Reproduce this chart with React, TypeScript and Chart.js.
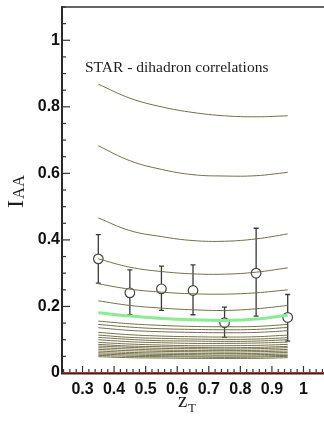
import React, { useEffect, useRef } from "react";
import { Chart, registerables } from "chart.js";
Chart.register(...registerables);

// zT positions of the theory curves and data
const zT = [0.35, 0.45, 0.55, 0.65, 0.75, 0.85, 0.95];

// theory curves (top to bottom)
const curve1 = [0.868, 0.826, 0.8, 0.783, 0.773, 0.77, 0.773];
const curve2 = [0.683, 0.638, 0.612, 0.596, 0.592, 0.593, 0.603];
const curve3 = [0.466, 0.428, 0.41, 0.398, 0.396, 0.403, 0.418];
const curve4 = [0.343, 0.318, 0.305, 0.298, 0.297, 0.303, 0.316];
const curve5 = [0.268, 0.252, 0.243, 0.238, 0.237, 0.241, 0.25];
const curve6 = [0.217, 0.203, 0.195, 0.19, 0.188, 0.193, 0.203];
const greenCurve = [0.181, 0.171, 0.164, 0.16, 0.158, 0.162, 0.174];
const curve8 = [0.156, 0.148, 0.143, 0.14, 0.139, 0.14, 0.146];
const curve9 = [0.146, 0.138, 0.133, 0.131, 0.13, 0.131, 0.137];
const curve10 = [0.136, 0.128, 0.124, 0.122, 0.121, 0.122, 0.127];
const curve11 = [0.122, 0.115, 0.111, 0.109, 0.108, 0.109, 0.114];
const curve12 = [0.114, 0.107, 0.104, 0.102, 0.101, 0.102, 0.106];
const curve13 = [0.107, 0.101, 0.097, 0.096, 0.095, 0.096, 0.1];
const curve14 = [0.1, 0.094, 0.091, 0.089, 0.089, 0.09, 0.093];
const curve15 = [0.092, 0.087, 0.084, 0.082, 0.082, 0.083, 0.086];
const curve16 = [0.086, 0.081, 0.079, 0.077, 0.076, 0.077, 0.08];
const curve17 = [0.081, 0.077, 0.074, 0.073, 0.072, 0.073, 0.076];
const curve18 = [0.076, 0.072, 0.069, 0.068, 0.068, 0.068, 0.071];
const curve19 = [0.071, 0.067, 0.065, 0.064, 0.063, 0.064, 0.066];
const curve20 = [0.066, 0.062, 0.06, 0.059, 0.059, 0.059, 0.062];
const curve21 = [0.061, 0.058, 0.056, 0.055, 0.054, 0.055, 0.057];
const curve22 = [0.057, 0.054, 0.052, 0.051, 0.051, 0.051, 0.053];
const curve23 = [0.053, 0.05, 0.049, 0.048, 0.047, 0.048, 0.05];
const curve24 = [0.049, 0.046, 0.045, 0.044, 0.044, 0.044, 0.046];

const olivecurves = [
  curve1, curve2, curve3, curve4, curve5, curve6,
  curve8, curve9, curve10, curve11, curve12, curve13, curve14, curve15,
  curve16, curve17, curve18, curve19, curve20, curve21, curve22, curve23, curve24,
];

// STAR data
const dataZ = [0.35, 0.45, 0.55, 0.65, 0.75, 0.85, 0.95];
const dataIAA = [0.343, 0.241, 0.253, 0.248, 0.151, 0.3, 0.167];
const errHigh = [0.416, 0.31, 0.321, 0.325, 0.198, 0.435, 0.236];
const errLow = [0.27, 0.175, 0.188, 0.175, 0.107, 0.171, 0.096];

const xTicks = [0.3, 0.4, 0.5, 0.6, 0.7, 0.8, 0.9, 1.0];
const xTickLabels = ["0.3", "0.4", "0.5", "0.6", "0.7", "0.8", "0.9", "1"];
const yTicks = [0, 0.2, 0.4, 0.6, 0.8, 1.0];
const yTickLabels = ["0", "0.2", "0.4", "0.6", "0.8", "1"];

const X_MIN = 0.235;
const X_MAX = 1.065;
const Y_MIN = 0;
const Y_MAX = 1.1;

const W = 324;
const H = 426;

const SERIF = "'Liberation Serif', 'Times New Roman', serif";

const decorPlugin = {
  id: "decor",
  beforeDatasetDraw(chart: any, args: any) {
    if (args.index !== chart.data.datasets.length - 1) return;
    const ctx = chart.ctx;
    const xs = chart.scales.x;
    const ys = chart.scales.y;
    ctx.save();
    ctx.strokeStyle = "#3a3a3a";
    ctx.lineWidth = 1.3;
    for (let i = 0; i < dataZ.length; i++) {
      const px = xs.getPixelForValue(dataZ[i]);
      const hi = ys.getPixelForValue(errHigh[i]);
      const lo = ys.getPixelForValue(errLow[i]);
      ctx.beginPath();
      ctx.moveTo(px, hi);
      ctx.lineTo(px, lo);
      ctx.moveTo(px - 2.5, hi);
      ctx.lineTo(px + 2.5, hi);
      ctx.moveTo(px - 2.5, lo);
      ctx.lineTo(px + 2.5, lo);
      ctx.stroke();
    }
    ctx.restore();
  },
  afterDraw(chart: any) {
    const ctx = chart.ctx;
    const xs = chart.scales.x;
    const ys = chart.scales.y;
    const { left, right, top, bottom } = chart.chartArea;
    ctx.save();
    // top frame
    ctx.strokeStyle = "#666";
    ctx.lineWidth = 2;
    ctx.beginPath();
    ctx.moveTo(left, top);
    ctx.lineTo(right, top);
    ctx.stroke();
    // left axis
    ctx.strokeStyle = "#2a2a2a";
    ctx.beginPath();
    ctx.moveTo(left, top - 1);
    ctx.lineTo(left, bottom + 1);
    ctx.stroke();
    // bottom axis
    ctx.beginPath();
    ctx.moveTo(left - 1, bottom + 0.5);
    ctx.lineTo(right, bottom + 0.5);
    ctx.stroke();
    // y ticks (inward)
    ctx.lineWidth = 1.2;
    ctx.strokeStyle = "#333";
    for (let k = 0; k <= 22; k++) {
      const v = k * 0.05;
      const py = ys.getPixelForValue(v);
      const major = k % 4 === 0;
      ctx.beginPath();
      ctx.moveTo(left, py);
      ctx.lineTo(left + (major ? 8 : 4), py);
      ctx.stroke();
    }
    // x ticks (inward)
    for (let k = 12; k <= 53; k++) {
      const v = k * 0.02;
      const px = xs.getPixelForValue(v);
      const major = k % 5 === 0;
      ctx.beginPath();
      ctx.moveTo(px, bottom);
      ctx.lineTo(px, bottom - (major ? 7 : 4));
      ctx.stroke();
    }
    // red zero line
    ctx.strokeStyle = "#e02020";
    ctx.lineWidth = 1;
    ctx.beginPath();
    ctx.moveTo(left + 1, bottom - 0.5);
    ctx.lineTo(right, bottom - 0.5);
    ctx.stroke();

    // annotation text
    ctx.fillStyle = "#1e1e1e";
    ctx.font = "15.5px " + SERIF;
    ctx.textBaseline = "alphabetic";
    ctx.textAlign = "left";
    ctx.fillText("STAR - dihadron correlations", 85, 72);

    // x title z_T
    ctx.font = "21px " + SERIF;
    ctx.fillText("z", 178, 407);
    ctx.font = "13px " + SERIF;
    ctx.fillText("T", 188, 412);

    // y title I_AA (rotated)
    ctx.save();
    ctx.translate(23, 208);
    ctx.rotate(-Math.PI / 2);
    ctx.font = "24px " + SERIF;
    ctx.fillText("I", 0, 0);
    const w = ctx.measureText("I").width;
    ctx.restore();
    ctx.save();
    ctx.translate(24, 208 - w - 1);
    ctx.rotate(-Math.PI / 2);
    ctx.font = "16.5px " + SERIF;
    ctx.fillText("AA", 0, 0);
    ctx.restore();
    ctx.restore();
  },
};

const zeroPad = (s: any) => {
  s.paddingTop = 0;
  s.paddingBottom = 0;
  s.paddingLeft = 0;
  s.paddingRight = 0;
};

export default function App() {
  const canvasRef = useRef<HTMLCanvasElement | null>(null);

  useEffect(() => {
    document.body.style.margin = "0";
    const canvas = canvasRef.current;
    if (!canvas) return;

    const lineSets: any[] = olivecurves.map((c) => ({
      data: zT.map((x, i) => ({ x, y: c[i] })),
      borderColor: "#747046",
      borderWidth: 1,
      pointRadius: 0,
      tension: 0.4,
      fill: false,
    }));
    lineSets.push({
      data: zT.map((x, i) => ({ x, y: greenCurve[i] })),
      borderColor: "#86ee8e",
      borderWidth: 3,
      pointRadius: 0,
      tension: 0.4,
      fill: false,
    });
    lineSets.push({
      data: dataZ.map((x, i) => ({ x, y: dataIAA[i] })),
      showLine: false,
      borderColor: "#444",
      backgroundColor: "#ffffff",
      pointBackgroundColor: "#ffffff",
      pointBorderColor: "#444",
      pointBorderWidth: 1.2,
      pointRadius: 4.8,
      pointStyle: "circle",
    });

    const chart = new Chart(canvas, {
      type: "line",
      data: { datasets: lineSets },
      options: {
        animation: false,
        responsive: false,
        devicePixelRatio: 1,
        layout: { autoPadding: false, padding: { top: 7, left: 0, right: 0, bottom: 0 } },
        plugins: { legend: { display: false }, tooltip: { enabled: false } },
        scales: {
          x: {
            type: "linear",
            min: X_MIN,
            max: X_MAX,
            grid: { display: false, drawTicks: false },
            border: { display: false },
            afterBuildTicks: (s: any) => {
              s.ticks = xTicks.map((v) => ({ value: v }));
            },
            afterFit: (s: any) => {
              s.height = 53;
              zeroPad(s);
            },
            ticks: {
              autoSkip: false,
              maxRotation: 0,
              padding: 7,
              color: "#111",
              font: { family: "'Liberation Sans', Arial, sans-serif", size: 16, weight: "bold" },
              callback: (_v: any, i: number) => xTickLabels[i],
            },
          },
          y: {
            type: "linear",
            min: Y_MIN,
            max: Y_MAX,
            grid: { display: false, drawTicks: false },
            border: { display: false },
            afterBuildTicks: (s: any) => {
              s.ticks = yTicks.map((v) => ({ value: v }));
            },
            afterFit: (s: any) => {
              s.width = 62;
              zeroPad(s);
            },
            ticks: {
              autoSkip: false,
              padding: 2,
              color: "#111",
              font: { family: "'Liberation Sans', Arial, sans-serif", size: 16, weight: "bold" },
              callback: (_v: any, i: number) => yTickLabels[i],
            },
          },
        },
      },
      plugins: [decorPlugin],
    });
    return () => chart.destroy();
  }, []);

  return (
    <div style={{ width: W, height: H, background: "#fff", overflow: "hidden" }}>
      <canvas ref={canvasRef} width={W} height={H} style={{ display: "block", width: W, height: H }} />
    </div>
  );
}
